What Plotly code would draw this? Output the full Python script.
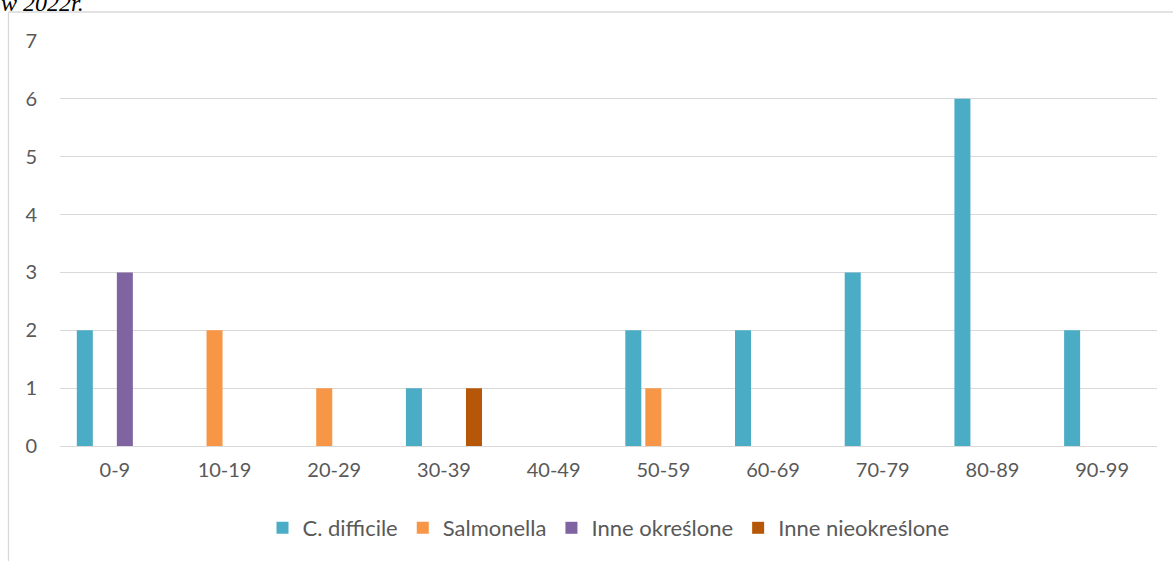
import plotly.graph_objects as go

categories = ["0-9", "10-19", "20-29", "30-39", "40-49", "50-59", "60-69", "70-79", "80-89", "90-99"]
c_difficile = [2, 0, 0, 1, 0, 2, 2, 3, 6, 2]
salmonella = [0, 2, 1, 0, 0, 1, 0, 0, 0, 0]
inne_okreslone = [3, 0, 0, 0, 0, 0, 0, 0, 0, 0]
inne_nieokreslone = [0, 0, 0, 1, 0, 0, 0, 0, 0, 0]
y_ticks = [0, 1, 2, 3, 4, 5, 6, 7]

series = [
    ("C. difficile", c_difficile, "#4BACC6"),
    ("Salmonella", salmonella, "#F79646"),
    ("Inne określone", inne_okreslone, "#8064A2"),
    ("Inne nieokreślone", inne_nieokreslone, "#B65708"),
]

W, H = 1173, 561
L, R, T, B = 60, 16, 41, 115
pw, ph = W - L - R, H - T - B

def px_x(px):
    return (px - L) / pw

def px_y(py):
    return (H - B - py) / ph

fig = go.Figure()
for name, vals, col in series:
    fig.add_trace(go.Bar(x=categories, y=vals, name=name, marker_color=col, marker_line_width=0))

font_family = "Lato, 'Open Sans', sans-serif"
grid = "#D9D9D9"

fig.update_layout(
    width=W, height=H,
    margin=dict(l=L, r=R, t=T, b=B),
    paper_bgcolor="white", plot_bgcolor="white",
    barmode="group", bargap=0.27, bargroupgap=0.2,
    font=dict(family=font_family, color="#595959", size=20),
    xaxis=dict(showgrid=False, showline=False, zeroline=False, ticks="",
               tickfont=dict(size=20, color="#595959"), ticklabelstandoff=10),
    yaxis=dict(range=[0, 7], tickvals=y_ticks, showgrid=True, gridcolor=grid, gridwidth=1,
               zeroline=True, zerolinecolor=grid, zerolinewidth=1, showline=False, ticks="",
               tickfont=dict(size=20, color="#595959"), ticklabelstandoff=22),
    legend=dict(orientation="h", x=0.5, xanchor="center", y=px_y(528), yanchor="middle",
                font=dict(size=22, color="#595959"), itemwidth=30, traceorder="normal"),
    showlegend=True,
    shapes=[
        dict(type="line", xref="paper", yref="paper", x0=px_x(8.5), x1=px_x(8.5),
             y0=px_y(12), y1=px_y(575), line=dict(color=grid, width=1.3)),
        dict(type="line", xref="paper", yref="paper", x0=px_x(8.5), x1=px_x(1180),
             y0=px_y(12), y1=px_y(12), line=dict(color=grid, width=1.3)),
    ],
    annotations=[
        dict(text="<i>w 2022r.</i>", xref="paper", yref="paper", x=px_x(-1), y=px_y(18),
             xanchor="left", yanchor="bottom", showarrow=False,
             font=dict(family="'Liberation Serif', 'Times New Roman', serif", size=24, color="black")),
    ],
)

fig.write_html("out.html", config={"displayModeBar": False},
               post_script="document.body.style.margin='0';document.body.style.overflow='hidden';")
